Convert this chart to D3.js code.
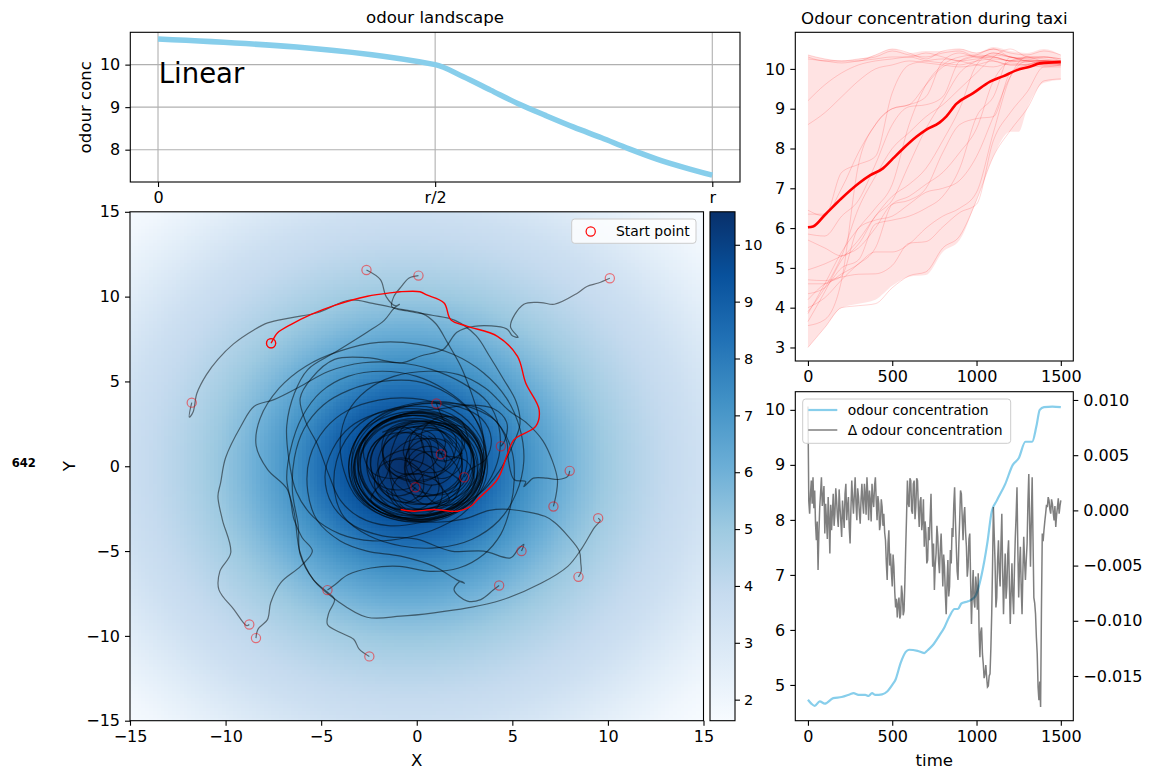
<!DOCTYPE html>
<html>
<head>
<meta charset="utf-8">
<script src="https://cdn.jsdelivr.net/npm/d3@7"></script>
<style>
  body { margin: 0; background: #fff; }
  text { font-family: "DejaVu Sans", sans-serif; }
</style>
</head>
<body>
<svg id="fig" width="1165" height="771"></svg>
<script>
// ---------- data ----------

// odour landscape profile (x as fraction of r)
var landscapePos = [0, 0.5, 0.55, 0.6, 0.65, 0.7, 0.75, 0.8, 0.85, 0.9, 0.95, 1.0];
var landscapeConc = [10.6, 10.0, 9.72, 9.4, 9.08, 8.8, 8.53, 8.28, 8.02, 7.78, 7.58, 7.4];
var landscapeTicks = [0, 0.5, 1];
var landscapeTickLabels = ["0", "r/2", "r"];

// concentration of the arena as a function of distance from the source
var fieldCentre = [-0.4, 0];
var fieldRadius = [0, 1, 2, 3, 4, 5, 6, 7, 8, 9, 10, 11, 12, 13, 14, 15, 16, 17, 18, 19, 20, 21.5];
var fieldConc = [10.58, 10.4, 10.0, 9.5, 8.85, 8.1, 7.35, 6.7, 6.1, 5.55, 5.1, 4.7, 4.35, 4.05, 3.8, 3.55, 3.2, 2.85, 2.5, 2.2, 1.9, 1.63];
var colorRange = [1.63, 10.58];
var colorbarTicks = [2, 3, 4, 5, 6, 7, 8, 9, 10];
var bluesColors = ["#f7fbff", "#deebf7", "#c6dbef", "#9ecae1", "#6baed6", "#4292c6", "#2171b5", "#08519c", "#08306b"];

// start points of the 20 walks
var startX = [-7.62, -11.77, -2.63, 0.09, 10.1, 1.03, 4.4, 1.26, 2.48, -0.07, 8.0, 7.15, 9.49, 5.48, 8.46, 4.31, -2.48, -4.67, -8.76, -8.41];
var startY = [7.25, 3.75, 11.57, 11.24, 11.08, 3.7, 1.18, 0.71, -0.65, -1.24, -0.27, -2.37, -3.06, -5.0, -6.52, -7.03, -11.21, -7.3, -9.33, -10.13];

// highlighted walk
var redTrack = [[-7.62,7.25],[-7.45,7.6],[-7.29,7.86],[-6.59,8.35],[-5.55,8.94],[-4.33,9.47],[-2.58,10.02],[-1.19,10.25],[-0.88,10.29],[0.17,10.29],[0.52,10.1],[1.43,9.63],[1.78,8.64],[2.65,8.25],[4.22,7.66],[5.27,6.48],[5.7,4.91],[6.4,3.34],[6.23,2.36],[5.09,1.57],[4.74,0.7],[4.22,-0.78],[3.18,-1.96],[2.83,-2.36],[2.13,-2.65],[0.91,-2.55],[-0.14,-2.65],[-0.84,-2.55]];

// the other walks (grey)
var walks = [
  [[-11.77,3.75],[-11.9,2.9],[-11.7,3.2],[-11.5,4.3],[-11,5.4],[-10.4,6.3],[-9.6,7.2],[-8.5,8.05],[-7.8,8.45],[-6.6,8.75],[-5.2,9.05],[-3.5,9.8],[-2.3,9.6],[-0.8,9.25],[0.3,9.0],[1.0,8.4],[1.6,7.3],[2.3,5.9],[2.8,4.5],[3.2,3.1],[3.5,1.5],[3.3,-0.4],[2.4,-1.9],[0.8,-2.8],[-1.0,-2.7],[-2.5,-1.6],[-3.1,0.2],[-2.6,1.9],[-1.0,2.9],[0.9,2.8],[2.3,1.8],[2.2,0.3],[1.6,-0.8],[0.6,-1.1],[-0.4,-0.5],[-0.5,0.8],[0.4,1.6],[1.6,1.4],[2.0,0.4]],
  [[-2.63,11.57],[-1.9,11.0],[-1.6,10.0],[-1.1,9.45],[-0.9,9.55],[-1.2,9.3],[-1.7,8.6],[-2.6,7.9],[-4.3,6.7],[-5.7,5.7],[-6.4,4.3],[-6.8,2.4],[-6.7,0.5],[-6.3,-1.5],[-5.4,-3.0],[-4.0,-4.0],[-2.3,-4.4],[-0.5,-4.2],[1.2,-3.6],[2.6,-2.6],[3.4,-1.0],[3.5,0.8],[2.7,2.3],[1.2,3.1],[-0.6,3.1],[-2.1,2.2],[-2.9,0.7],[-2.7,-1.0],[-1.6,-2.3],[0.1,-2.6],[1.7,-2.0],[1.0,-0.8],[0.7,0.6],[-0.5,1.0],[-1.8,0.3],[-2.0,-1.0],[-1.2,-2.0],[0.1,-2.0],[0.8,-1.1]],
  [[0.09,11.24],[-0.4,11.1],[-0.8,10.6],[-1.2,10.0],[-1.3,9.4],[-0.5,9.15],[0.8,8.9],[2.0,8.6],[3.1,7.7],[3.8,6.5],[4.5,5.2],[5.2,3.8],[5.4,2.5],[5.0,1.2],[4.3,-0.3],[3.3,-1.6],[2.0,-2.4],[0.4,-2.9],[-1.3,-2.7],[-2.7,-1.7],[-3.3,-0.1],[-2.8,1.6],[-1.4,2.7],[0.4,3.0],[2.0,2.4],[2.9,1.0],[2.8,-0.6],[1.8,-1.8],[0.3,-2.2],[-0.5,-1.0],[-0.6,0.4],[0.0,1.8],[1.2,2.1],[2.2,1.3],[2.3,0.0],[1.5,-0.7],[0.4,-0.5]],
  [[10.1,11.08],[9.5,10.8],[8.9,10.6],[8.4,10.2],[7.2,9.55],[6.5,9.65],[5.6,9.55],[4.9,8.25],[5.3,7.6],[5.0,7.7],[4.7,8.1],[3.0,8.25],[2.1,7.9],[1.4,6.9],[0.2,6.5],[-0.8,6.1],[-2.6,6.4],[-4.3,6.3],[-5.5,5.2],[-6.1,4.0],[-5.8,2.6],[-5.2,1.3],[-4.6,-0.5],[-4.0,-2.0],[-3.0,-3.0],[-1.5,-3.5],[0.3,-3.3],[2.0,-2.7],[3.1,-1.5],[3.4,0.2],[2.8,1.8],[1.3,2.9],[-0.5,3.1],[-2.1,2.4],[-3.0,0.9],[-2.9,-0.8],[-1.9,-2.1],[-0.3,-2.6],[1.3,-2.2],[2.3,-1.0],[1.0,0.2],[0.5,1.5],[-0.8,2.0],[-2.2,1.4],[-2.6,0.0],[-1.8,-1.2],[-0.4,-1.3],[0.4,-0.4]],
  [[1.03,3.7],[1.2,3.2],[1.5,2.6],[2.6,2.2],[3.3,1.0],[3.2,-0.5],[2.4,-1.6],[1.0,-2.2],[-0.6,-2.0],[-1.8,-1.0],[-2.0,0.5],[-1.2,1.8],[0.3,2.4],[1.8,2.0],[2.6,0.8],[2.4,-0.7],[1.3,-1.6],[-0.1,-1.7],[-1.2,-0.9],[-1.4,0.4],[-0.6,1.4],[0.7,1.6],[1.6,0.8]],
  [[4.4,1.18],[4.6,1.5],[4.7,2.6],[4.0,3.4],[2.8,3.6],[1.3,3.4],[-0.3,3.2],[-1.8,2.6],[-2.9,1.3],[-3.2,-0.4],[-2.6,-1.9],[-1.2,-2.8],[0.6,-2.9],[2.2,-2.2],[3.2,-0.9],[3.3,0.7],[2.5,2.0],[1.0,2.6],[-0.6,2.4],[-1.3,1.0],[-1.4,-0.6],[-0.8,-2.1],[0.6,-2.6],[1.9,-2.0],[2.3,-0.6],[1.6,0.6],[0.3,0.8],[-0.5,0.0]],
  [[1.26,0.71],[1.5,1.4],[0.9,2.4],[-0.5,2.7],[-2.0,2.1],[-2.9,0.7],[-2.8,-0.9],[-1.8,-2.2],[-0.2,-2.7],[1.5,-2.4],[2.7,-1.3],[3.0,0.3],[2.4,1.8],[1.0,2.6],[-0.7,2.5],[-2.0,1.5],[-2.4,0],[-1.8,-1.5],[-0.4,-2.2],[1.2,-2.0],[2.2,-0.9],[2.3,0.6],[1.4,1.7]],
  [[2.48,-0.65],[2.8,-0.2],[3.6,0.4],[3.9,1.6],[3.4,2.8],[2.2,3.5],[0.7,3.7],[-0.9,3.4],[-2.3,2.5],[-3.2,1.1],[-3.4,-0.6],[-2.8,-2.0],[-1.4,-2.9],[0.4,-3.0],[2.0,-2.4],[3.0,-1.2],[3.1,0.4],[2.4,1.7],[1.0,2.5],[-0.6,2.6],[-1.6,2.0],[-1.8,0.8],[-1.1,-0.3],[0.2,-0.4],[1.1,0.5],[0.9,1.8],[-0.2,2.3]],
  [[-0.07,-1.24],[-0.4,-1.6],[-1.3,-1.7],[-2.2,-0.8],[-2.4,0.6],[-1.6,1.9],[0,2.5],[1.7,2.2],[2.8,1.0],[2.9,-0.6],[2.0,-1.9],[0.5,-2.5],[-1.1,-2.3],[-2.3,-1.2],[-2.6,0.4],[-1.9,1.7],[-0.4,2.3],[1.2,2.1],[2.2,1.0],[2.3,-0.5],[1.4,-1.5],[0,-1.8]],
  [[8.0,-0.27],[7.9,-0.6],[7.4,-0.78],[6.8,-0.7],[6.1,-0.7],[5.8,-1.0],[5.6,-1.2],[5.7,-0.9],[5.1,-0.8],[4.8,0.3],[4.7,1.5],[4.1,2.7],[3.0,3.4],[1.5,3.8],[-0.2,3.7],[-1.8,3.1],[-3.0,1.9],[-3.4,0.3],[-3.1,-1.3],[-2.2,-2.5],[-0.8,-3.1],[0.9,-3.0],[2.3,-2.2],[3.1,-0.8],[3.1,0.8],[2.3,2.0],[0.9,2.6],[-0.2,2.0],[-0.4,0.6],[0.0,-0.9],[1.0,-2.2],[2.3,-2.1],[3.0,-0.9],[2.6,0.3],[1.4,0.6]],
  [[7.15,-2.37],[7.3,-1.6],[7.36,-0.8],[7.1,0.3],[6.6,1.5],[5.8,2.5],[4.8,3.3],[3.6,4.6],[2.2,5.4],[0.6,5.6],[-1.2,5.3],[-2.6,4.5],[-3.6,3.2],[-4.0,1.5],[-3.8,-0.3],[-3.1,-1.9],[-1.8,-2.9],[-0.1,-3.3],[1.6,-3.0],[2.9,-2.0],[3.5,-0.5],[3.3,1.1],[2.4,2.4],[0.9,3.1],[-0.8,3.0],[-2.3,2.2],[-2.8,0.9],[-2.3,-0.4],[-1.0,-0.7],[0.2,0.0],[0.3,1.4],[-0.6,2.3],[-1.8,2.0]],
  [[9.49,-3.06],[9.6,-3.2],[9.3,-3.6],[8.6,-4.9],[7.9,-5.9],[6.5,-6.9],[4.4,-7.9],[2.65,-8.35],[0.9,-8.64],[-0.84,-8.84],[-2.6,-8.9],[-4.2,-7.9],[-5.4,-6.7],[-6.1,-5.1],[-6.4,-2.8],[-6.8,-0.8],[-6.6,1.0],[-6.0,2.9],[-5.0,4.4],[-3.6,5.3],[-1.8,5.6],[0,5.3],[1.5,4.5],[2.7,3.4],[3.4,1.9],[3.6,0.2],[3.1,-1.4],[2.0,-2.6],[0.5,-3.1],[-1.1,-2.9],[-2.4,-2.0],[-1.6,-0.6],[-1.2,0.4],[0.0,0.3],[1.0,-0.4],[1.1,-1.6],[0.2,-2.5],[-1.0,-2.4],[-1.6,-1.4]],
  [[5.48,-5.0],[5.6,-4.6],[5.3,-4.9],[4.9,-5.4],[3.5,-5.0],[1.8,-5.0],[0.0,-4.3],[-1.8,-4.1],[-3.3,-3.5],[-4.4,-2.3],[-4.8,-0.6],[-4.4,1.0],[-3.5,2.3],[-2.1,3.1],[-0.4,3.4],[1.3,3.1],[2.7,2.2],[3.4,0.8],[3.3,-0.8],[2.5,-2.0],[1.1,-2.7],[-0.5,-2.7],[-1.3,-1.6],[-0.9,-0.6],[0.3,-0.5],[1.3,-1.2],[1.1,-2.4],[0.0,-2.9],[-0.9,-2.2]],
  [[8.46,-6.52],[8.6,-6.2],[8.58,-5.7],[8.5,-5.0],[7.9,-4.1],[7.2,-3.3],[6.7,-2.95],[4.9,-2.55],[3.8,-2.6],[2.5,-3.1],[1.0,-3.3],[-0.7,-3.1],[-2.2,-2.3],[-3.1,-1.0],[-3.2,0.6],[-2.5,2.0],[-1.2,2.9],[0.4,3.1],[1.9,2.4],[2.8,1.2],[2.7,1.6],[2.3,2.7],[1.2,2.9],[0.3,2.1],[0.4,0.9],[1.4,0.3],[2.4,0.8]],
  [[4.31,-7.03],[4.0,-7.3],[3.35,-7.86],[2.65,-7.95],[1.95,-7.27],[2.3,-6.78],[2.5,-6.9],[2.1,-6.7],[0.9,-5.9],[-0.84,-5.3],[-2.6,-5.0],[-4.0,-4.4],[-5.2,-3.2],[-5.7,-1.5],[-5.6,0.5],[-4.8,2.2],[-3.6,3.3],[-2.0,3.9],[-0.2,4.0],[1.6,3.5],[2.9,2.4],[3.6,0.9],[3.6,-0.8],[2.8,-2.2],[1.3,-3.0],[-0.4,-3.1],[-1.9,-2.5],[-2.9,-1.2],[-3.0,0.5],[-2.3,1.9],[-0.9,2.7],[0.7,2.7],[2.0,1.8],[1.9,0.5],[1.2,-0.3],[0.0,-0.2],[-0.7,0.8],[-0.2,2.0],[1.1,2.2],[1.9,1.3]],
  [[-2.48,-11.21],[-3.0,-10.8],[-3.3,-10.2],[-4.0,-9.8],[-4.67,-9.33],[-4.6,-8.64],[-4.3,-7.86],[-4.7,-7.4],[-5.4,-6.7],[-6.1,-5.2],[-6.2,-3.5],[-6.5,-1.5],[-6.4,0.5],[-5.9,2.2],[-4.9,3.6],[-3.5,4.5],[-1.8,5.0],[0,5.0],[1.6,4.3],[2.8,3.2],[3.5,1.7],[3.6,0],[3.0,-1.6],[1.8,-2.7],[0.2,-3.2],[-1.5,-2.9],[-2.8,-1.9],[-3.3,-0.3],[-2.9,1.3],[-1.8,2.5],[-0.2,3.0],[1.4,2.6],[2.5,1.4],[2.0,0.3],[1.0,-0.6],[-0.4,-0.8],[-1.6,-0.1],[-1.7,1.2],[-0.6,2.0],[0.6,1.6],[0.8,0.5]],
  [[-4.67,-7.3],[-4.3,-7.0],[-3.6,-6.4],[-2.4,-6.0],[-0.9,-5.9],[0.7,-6.2],[2.2,-6.0],[3.5,-5.2],[4.4,-4.0],[4.9,-2.4],[5.1,-0.8],[5.0,0.8],[4.4,2.3],[3.3,3.4],[1.9,3.7],[0.3,3.7],[-1.3,3.3],[-2.6,2.4],[-3.4,1.0],[-3.5,-0.6],[-2.8,-2.0],[-1.4,-2.9],[0.3,-3.0],[1.8,-2.4],[2.8,-1.2],[3.0,0.4],[2.3,1.8],[1.0,2.5],[-0.5,2.5],[-1.6,1.6],[-1.7,0.3],[-0.9,-0.7],[0.4,-0.9],[1.4,-0.2],[1.5,1.0],[0.6,1.8]],
  [[-8.76,-9.33],[-8.9,-9.4],[-9.56,-8.45],[-10.35,-7.27],[-10.3,-6.2],[-9.73,-5.1],[-10.17,-3.14],[-10.4,-1.77],[-10.26,-0.98],[-10.0,0.5],[-9.2,2.36],[-8.5,3.54],[-7.47,3.93],[-6.1,4.7],[-4.6,5.6],[-2.8,6.1],[-1.0,6.1],[0.8,5.7],[2.4,4.9],[3.7,3.8],[4.3,2.3],[4.3,0.6],[3.7,-1.0],[2.6,-2.3],[1.0,-3.1],[-0.8,-3.2],[-2.4,-2.5],[-3.4,-1.1],[-3.5,0.6],[-2.8,2.1],[-1.4,3.0],[0.3,3.2],[1.8,2.6],[2.7,1.4],[2.8,-0.1],[2.2,-1.3],[1.0,-1.7],[-0.2,-1.2],[-0.6,0.0],[0.0,1.0],[1.0,1.1],[1.5,0.2]],
  [[-8.41,-10.13],[-8.3,-9.6],[-7.81,-9.04],[-7.64,-8.05],[-7.12,-6.87],[-6.07,-5.89],[-5.46,-5.0],[-6.0,-4.2],[-6.42,-3.14],[-6.77,-1.37],[-7.8,-0.2],[-8.4,1.2],[-8.2,2.8],[-7.2,4.6],[-5.8,5.9],[-4.0,6.8],[-2.0,7.3],[0,7.2],[1.9,6.6],[3.5,5.5],[4.7,4.0],[5.4,2.2],[5.6,0.3],[5.2,-1.6],[4.3,-3.2],[2.9,-4.3],[1.1,-4.8],[-0.8,-4.7],[-2.5,-4.1],[-3.8,-3.0],[-4.3,-1.5],[-4.2,0.3],[-3.5,1.9],[-2.3,3.0],[-0.7,3.5],[1.0,3.4],[2.4,2.6],[3.3,1.2],[3.4,-0.4],[2.8,-1.8],[1.5,-2.7],[-0.1,-2.9],[-1.5,-2.3],[-2.2,-1.2],[-1.9,0.0],[-0.8,0.4],[0.2,-0.3],[0.3,-1.5],[-0.6,-2.2]]
];

// odour concentration during taxi (one trace per walk, every 100 steps)
var taxiTime = [0, 100, 200, 300, 400, 500, 600, 700, 800, 900, 1000, 1100, 1200, 1300, 1400, 1500];
var taxiTraces = [
  [10.35,10.25,10.2,10.25,10.3,10.45,10.35,10.3,10.4,10.45,10.3,10.35,10.3,10.25,10.3,10.25],
  [10.3,10.2,10.2,10.2,10.35,10.5,10.4,10.25,10.45,10.5,10.4,10.5,10.4,10.35,10.45,10.35],
  [10.25,10.2,10.15,10.2,10.25,10.3,10.3,10.4,10.3,10.2,10.25,10.3,10.2,10.3,10.2,10.2],
  [9.2,9.6,9.9,10.1,10.2,10.25,10.3,10.2,10.15,10.1,10.2,10.25,10.2,10.15,10.1,10.1],
  [8.6,8.9,9.3,9.7,10.0,10.1,10.2,10.15,10.1,10.05,10.1,10.2,10.1,10.1,10.2,10.15],
  [6.45,6.3,7.4,7.6,7.8,9.4,10.1,10.2,10.25,10.2,10.1,10.05,10.15,10.1,10.05,10.1],
  [6.35,6.35,7.0,7.9,8.6,9.0,9.1,9.6,10.05,10.2,10.3,10.2,10.1,10.1,10.1,10.1],
  [5.85,5.8,6.3,6.7,7.6,8.6,9.05,9.1,9.3,10.2,10.35,10.5,10.3,10.25,10.2,10.2],
  [5.7,5.5,5.3,5.6,6.3,6.7,7.6,8.5,9.2,9.9,10.2,10.4,10.3,10.2,10.15,10.15],
  [4.95,5.1,5.3,5.5,6.0,6.6,6.7,7.0,7.9,8.6,8.75,8.8,9.9,10.1,10.2,10.15],
  [4.7,4.68,4.77,4.84,4.85,5.06,5.62,5.66,6.03,6.39,6.6,8.2,8.9,9.42,10.05,10.05],
  [4.6,4.6,4.85,5.1,5.5,6.6,6.8,7.1,7.4,7.9,8.5,9.7,10.2,10.3,10.3,10.25],
  [4.35,4.5,5.0,5.2,6.1,6.2,6.3,6.5,6.8,7.5,8.8,9.3,10.3,10.2,10.2,10.1],
  [4.2,4.6,4.8,6.0,6.2,6.3,6.6,6.9,7.0,7.2,7.8,8.8,9.8,10.2,10.2,10.15],
  [4.0,4.25,4.7,5.1,5.4,5.4,5.6,6.0,6.3,6.5,6.9,8.4,9.8,10.3,10.3,10.2],
  [3.85,4.6,5.4,6.0,6.5,7.1,8.6,9.6,10.1,10.3,10.35,10.3,10.2,10.2,10.1,10.1],
  [3.65,4.4,5.2,5.7,6.3,6.8,7.1,7.5,8.2,9.0,10.1,10.4,10.3,10.2,10.2,10.2],
  [3.55,3.7,4.7,7.6,8.6,9.0,9.1,9.3,10.2,10.4,10.3,10.3,10.2,10.2,10.2,10.2],
  [3.0,3.5,4.0,4.05,4.1,4.5,4.8,4.9,5.5,5.8,6.7,7.8,8.45,9.0,9.7,9.75],
  [3.9,4.5,5.3,6.5,7.3,8.0,8.4,8.8,9.1,9.5,9.9,10.3,10.5,10.3,10.25,10.2]
];
var bandTime = [0, 100, 200, 300, 400, 500, 600, 700, 800, 900, 1000, 1100, 1200, 1250, 1300, 1400, 1500];
var bandLow = [3.0, 3.5, 4.0, 4.1, 4.2, 4.55, 4.78, 4.82, 5.4, 5.7, 6.7, 7.8, 8.42, 8.42, 9.0, 9.65, 9.72];
var bandHigh = [10.35, 10.25, 10.2, 10.25, 10.35, 10.5, 10.4, 10.45, 10.45, 10.5, 10.4, 10.55, 10.45, 10.42, 10.4, 10.5, 10.35];
var meanTime = [0, 30, 100, 200, 300, 370, 445, 505, 565, 645, 700, 780, 820, 880, 980, 1080, 1160, 1240, 1320, 1375, 1500];
var meanConc = [6.02, 6.04, 6.33, 6.75, 7.12, 7.33, 7.5, 7.75, 8.0, 8.3, 8.47, 8.65, 8.8, 9.12, 9.39, 9.68, 9.82, 9.97, 10.06, 10.14, 10.17];

// single walk: odour concentration and its change
var concTime = [0, 20, 40, 70, 100, 150, 200, 250, 270, 300, 340, 360, 380, 400, 440, 470, 500, 520, 550, 580, 600, 650, 690, 710, 740, 780, 810, 840, 870, 890, 910, 950, 990, 1030, 1065, 1090, 1120, 1170, 1215, 1250, 1290, 1330, 1355, 1375, 1400, 1450, 1500];
var concValue = [4.73, 4.66, 4.62, 4.7, 4.66, 4.76, 4.78, 4.83, 4.85, 4.82, 4.82, 4.8, 4.85, 4.82, 4.83, 4.88, 5.0, 5.1, 5.4, 5.6, 5.64, 5.62, 5.58, 5.63, 5.72, 5.9, 6.05, 6.25, 6.38, 6.38, 6.48, 6.52, 6.6, 7.0, 7.6, 8.15, 8.35, 8.65, 9.0, 9.12, 9.42, 9.42, 9.7, 10.0, 10.05, 10.06, 10.05];
var deltaStep = 5;
// change of odour concentration in units of 1e-3, one value every 5 steps
var deltaMilli = [
  9.4,0.8,-0.3,1.5,2.7,0.6,3.0,0.2,1.8,-1.2,-2.7,-1.0,-5.4,-2.0,0.3,1.6,3.0,0.4,1.2,2.2,
  -2.1,0.6,-0.9,-2.6,1.2,-0.8,-3.9,0.5,-1.8,-0.2,1.5,-1.4,-0.3,2.0,0.9,-0.6,-1.5,1.9,0.3,-1.0,
  -2.4,0.9,-0.3,-1.6,1.5,2.4,-0.9,0.4,1.2,-1.6,-3.0,0.2,2.7,1.0,-0.3,1.4,3.0,0.6,-0.9,2.0,
  1.2,-0.2,-1.2,1.0,2.4,0.7,-0.3,2.4,1.5,-0.4,3.0,1.4,-0.9,1.8,0.9,-1.0,2.4,1.0,0.3,2.2,
  3.0,0.9,-0.9,1.3,0.6,-1.8,-1.2,1.0,0.3,-1.4,-0.3,-2.0,-2.7,-4.8,-6.3,-3.0,-1.8,-5.0,-3.9,-5.6,
  -6.9,-4.0,-5.1,-7.4,-8.8,-8.0,-9.7,-8.5,-7.9,-9.8,-9.4,-6.8,-7.6,-9.5,-9.1,-6.5,-3.3,-0.5,2.7,0.6,
  0.3,2.9,2.7,0.0,-0.3,2.4,2.7,-0.8,0.3,2.9,2.7,0.2,-1.5,0.8,1.2,-1.8,-0.9,1.0,-3.3,-1.0,
  -2.1,-4.8,-4.5,-1.5,-2.7,-0.6,1.5,-2.4,-5.1,-3.0,-7.2,-5.0,-3.9,-1.4,-2.4,-4.6,-5.7,-3.5,-2.1,-4.3,
  -6.9,-4.0,-5.1,-7.6,-9.4,-6.5,-4.5,-7.8,-6.9,-3.6,-4.8,-1.6,-2.4,0.5,2.1,-1.0,-3.3,-5.5,-6.3,-3.1,
  -0.9,1.8,1.5,-0.6,-2.7,-0.5,0.3,-2.0,-3.3,-6.0,-5.1,-2.6,-2.1,-6.5,-10.3,-7.4,-5.4,-8.2,-8.8,-6.0,
  -6.9,-9.0,-5.7,-10.9,-13.3,-11.0,-10.6,-13.0,-13.9,-15.2,-14.8,-14.0,-15.1,-16.0,-15.9,-15.0,-14.8,-12.5,-9.4,-5.0,
  0.3,-2.2,-4.8,-8.8,-7.9,-4.5,-2.7,-5.6,-6.9,-3.0,-0.3,-5.5,-9.4,-6.3,-3.9,-8.0,-6.9,-4.0,-2.7,-6.8,
  -10.3,-7.5,-4.8,-7.7,-9.4,-5.2,-2.4,-0.4,2.1,-3.5,-7.9,-5.0,-3.3,-7.0,-9.4,-5.6,-2.4,-4.6,-6.3,-4.5,
  -3.0,0.8,3.3,-1.0,-5.1,-0.8,3.0,-2.6,-7.9,-8.4,-9.4,-11.5,-13.0,-16.0,-17.2,-15.5,-17.8,-9.0,-2.1,-2.8,
  -1.8,-1.0,-0.3,0.5,0.3,1.2,0.9,0.1,-0.3,1.0,0.6,-0.2,-0.9,0.4,-1.5,-0.4,0.3,1.1,-0.3,0.4,
  0.9
];
var timeTicks = [0, 500, 1000, 1500];
var deltaTicks = [-15, -10, -5, 0, 5, 10];

// ---------- drawing ----------
var svg = d3.select("#fig");
svg.append("rect").attr("width", 1165).attr("height", 771).attr("fill", "#fff");
var intFmt = d3.format("d");

function styleAxis(g, size) {
  g.select(".domain").remove();
  g.selectAll(".tick line").attr("stroke", "#000").attr("stroke-width", 1.1);
  g.selectAll(".tick text").attr("font-family", "DejaVu Sans").attr("font-size", size).attr("fill", "#000");
  return g;
}
function frame(g, w, h) {
  g.append("rect").attr("width", w).attr("height", h)
    .attr("fill", "none").attr("stroke", "#000").attr("stroke-width", 1.1);
}
function addText(x, y, str, size, anchor, rotate, weight) {
  var t = svg.append("text")
    .attr("transform", "translate(" + x + "," + y + ")" + (rotate ? " rotate(" + rotate + ")" : ""))
    .attr("font-size", size).attr("text-anchor", anchor || "middle")
    .attr("fill", "#000").text(str);
  if (weight) t.attr("font-weight", weight);
  return t;
}

// ===== odour landscape (top left) =====
var tlW = 609.7, tlH = 149.7;
var gTL = svg.append("g").attr("transform", "translate(130.3,32.3)");
var lx = d3.scaleLinear().domain([-0.05, 1.05]).range([0, tlW]);
var ly = d3.scaleLinear().domain([7.24, 10.76]).range([tlH, 0]);

gTL.append("g").selectAll("line").data(landscapeTicks).enter().append("line")
  .attr("x1", d => lx(d)).attr("x2", d => lx(d)).attr("y1", 0).attr("y2", tlH)
  .attr("stroke", "#b0b0b0").attr("stroke-width", 1.1);
gTL.append("g").selectAll("line").data([8, 9, 10]).enter().append("line")
  .attr("x1", 0).attr("x2", tlW).attr("y1", d => ly(d)).attr("y2", d => ly(d))
  .attr("stroke", "#b0b0b0").attr("stroke-width", 1.1);

gTL.append("path")
  .datum(d3.zip(landscapePos, landscapeConc))
  .attr("fill", "none").attr("stroke", "#87ceeb").attr("stroke-width", 5.5)
  .attr("d", d3.line().x(d => lx(d[0])).y(d => ly(d[1])).curve(d3.curveMonotoneX));

gTL.append("text").attr("x", 28.5).attr("y", 51).attr("font-size", 27.5).text("Linear");

styleAxis(gTL.append("g").attr("transform", "translate(0," + tlH + ")")
  .call(d3.axisBottom(lx).tickValues(landscapeTicks)
    .tickFormat((d, i) => landscapeTickLabels[i]).tickSize(5).tickPadding(5)), 16);
styleAxis(gTL.append("g")
  .call(d3.axisLeft(ly).tickValues([8, 9, 10]).tickFormat(intFmt).tickSize(5).tickPadding(5)), 16);
frame(gTL, tlW, tlH);
addText(435, 23.3, "odour landscape", 16.6);
addText(91, 107.2, "odour conc", 16.6, "middle", -90);

// ===== arena (main) =====
var mW = 573.5, mH = 508.9;
var gM = svg.append("g").attr("transform", "translate(130,211.8)");
var mx = d3.scaleLinear().domain([-15, 15]).range([0, mW]);
var my = d3.scaleLinear().domain([-15, 15]).range([mH, 0]);
var radial = d3.scaleLinear().domain(fieldRadius).range(fieldConc).clamp(true);
var blueStops = bluesColors.map((c, i) => colorRange[0] + i * (colorRange[1] - colorRange[0]) / 8);
var blues = d3.scaleLinear().domain(blueStops).range(bluesColors).clamp(true);

var cellSize = 0.2;
var centres = d3.range(150).map(i => -15 + cellSize * (i + 0.5));
var cells = [];
centres.forEach(function (cx) {
  centres.forEach(function (cy) {
    cells.push({ x: cx, y: cy, v: radial(Math.hypot(cx - fieldCentre[0], cy - fieldCentre[1])) });
  });
});
var cw = mx(cellSize) - mx(0), ch = my(0) - my(cellSize);
gM.append("g").attr("shape-rendering", "crispEdges").selectAll("rect").data(cells).enter().append("rect")
  .attr("x", d => mx(d.x - cellSize / 2)).attr("y", d => my(d.y + cellSize / 2))
  .attr("width", cw + 0.6).attr("height", ch + 0.6)
  .attr("fill", d => blues(d.v));

var clip = svg.append("clipPath").attr("id", "mainClip");
clip.append("rect").attr("width", mW).attr("height", mH);
var walkLine = d3.line().x(d => mx(d[0])).y(d => my(d[1])).curve(d3.curveCatmullRom.alpha(0.5));
var gWalks = gM.append("g").attr("clip-path", "url(#mainClip)");
gWalks.selectAll("path.walk").data(walks).enter().append("path")
  .attr("class", "walk").attr("d", walkLine)
  .attr("fill", "none").attr("stroke", "#000").attr("stroke-opacity", 0.5).attr("stroke-width", 1.2);
gWalks.append("path").datum(redTrack).attr("d", walkLine)
  .attr("fill", "none").attr("stroke", "#ff0000").attr("stroke-width", 1.4);

gM.append("g").selectAll("circle").data(d3.zip(startX, startY)).enter().append("circle")
  .attr("cx", d => mx(d[0])).attr("cy", d => my(d[1])).attr("r", 4.6)
  .attr("fill", "none").attr("stroke", "#ff0000").attr("stroke-opacity", 0.5).attr("stroke-width", 1.2);
gM.append("circle").attr("cx", mx(startX[0])).attr("cy", my(startY[0])).attr("r", 4.6)
  .attr("fill", "none").attr("stroke", "#ff0000").attr("stroke-width", 1.3);

// legend
var lgM = gM.append("g").attr("transform", "translate(441.7,7.2)");
lgM.append("rect").attr("width", 124.3).attr("height", 24.3).attr("rx", 3)
  .attr("fill", "#fff").attr("fill-opacity", 0.8).attr("stroke", "#cccccc");
lgM.append("circle").attr("cx", 19).attr("cy", 12.5).attr("r", 4.6)
  .attr("fill", "none").attr("stroke", "#ff0000").attr("stroke-width", 1.2);
lgM.append("text").attr("x", 44.3).attr("y", 12.5).attr("dy", "0.35em")
  .attr("font-size", 13.9).text("Start point");

styleAxis(gM.append("g").attr("transform", "translate(0," + mH + ")")
  .call(d3.axisBottom(mx).tickValues([-15, -10, -5, 0, 5, 10, 15]).tickFormat(intFmt).tickSize(5).tickPadding(5)), 16);
styleAxis(gM.append("g")
  .call(d3.axisLeft(my).tickValues([-15, -10, -5, 0, 5, 10, 15]).tickFormat(intFmt).tickSize(5).tickPadding(5)), 16);
frame(gM, mW, mH);
addText(416.75, 766, "X", 16.6);
addText(75, 466.25, "Y", 16.6, "middle", -90);
addText(11.7, 467, "642", 11.6, "start", 0, "bold");

// colorbar
var cbH = 508.9, cbW = 25;
var gCB = svg.append("g").attr("transform", "translate(710,211.8)");
var cScale = d3.scaleLinear().domain(colorRange).range([cbH, 0]);
var grad = svg.append("defs").append("linearGradient").attr("id", "bluesGrad")
  .attr("x1", 0).attr("x2", 0).attr("y1", 1).attr("y2", 0);
grad.selectAll("stop").data(bluesColors).enter().append("stop")
  .attr("offset", (d, i) => i / 8).attr("stop-color", d => d);
gCB.append("rect").attr("width", cbW).attr("height", cbH).attr("fill", "url(#bluesGrad)");
styleAxis(gCB.append("g").attr("transform", "translate(" + cbW + ",0)")
  .call(d3.axisRight(cScale).tickValues(colorbarTicks).tickFormat(intFmt).tickSize(5).tickPadding(4)), 14.5);
frame(gCB, cbW, cbH);

// ===== odour concentration during taxi (top right) =====
var rW = 278, trH = 328.7;
var gTR = svg.append("g").attr("transform", "translate(795.3,32.3)");
var tx = d3.scaleLinear().domain([-75, 1574]).range([0, rW]);
var ty = d3.scaleLinear().domain([2.66, 10.92]).range([trH, 0]);

gTR.append("path").datum(d3.range(bandTime.length))
  .attr("fill", "#ff0000").attr("fill-opacity", 0.11)
  .attr("d", d3.area().x(i => tx(bandTime[i])).y0(i => ty(bandLow[i])).y1(i => ty(bandHigh[i])).curve(d3.curveMonotoneX));
var traceLine = d3.line().x((d, i) => tx(taxiTime[i])).y(d => ty(d)).curve(d3.curveMonotoneX);
gTR.selectAll("path.trace").data(taxiTraces).enter().append("path").attr("class", "trace")
  .attr("d", traceLine).attr("fill", "none").attr("stroke", "#ff0000")
  .attr("stroke-opacity", 0.16).attr("stroke-width", 1);
gTR.append("path").datum(d3.zip(meanTime, meanConc))
  .attr("fill", "none").attr("stroke", "#ff0000").attr("stroke-width", 2.6)
  .attr("d", d3.line().x(d => tx(d[0])).y(d => ty(d[1])).curve(d3.curveMonotoneX));

styleAxis(gTR.append("g").attr("transform", "translate(0," + trH + ")")
  .call(d3.axisBottom(tx).tickValues(timeTicks).tickFormat(intFmt).tickSize(5).tickPadding(5)), 16);
styleAxis(gTR.append("g")
  .call(d3.axisLeft(ty).tickValues([3, 4, 5, 6, 7, 8, 9, 10]).tickFormat(intFmt).tickSize(5).tickPadding(5)), 16);
frame(gTR, rW, trH);
addText(934.3, 24, "Odour concentration during taxi", 16.6);

// ===== single walk (bottom right) =====
var brH = 329;
var gBR = svg.append("g").attr("transform", "translate(795.3,391.7)");
var by = d3.scaleLinear().domain([4.35, 10.33]).range([brH, 0]);
var byR = d3.scaleLinear().domain([-19.05, 10.75]).range([brH, 0]);

gBR.append("path").datum(d3.zip(concTime, concValue))
  .attr("fill", "none").attr("stroke", "#87ceeb").attr("stroke-width", 2.2)
  .attr("d", d3.line().x(d => tx(d[0])).y(d => by(d[1])).curve(d3.curveMonotoneX));
gBR.append("path").datum(deltaMilli)
  .attr("fill", "none").attr("stroke", "#000").attr("stroke-opacity", 0.5).attr("stroke-width", 1.5)
  .attr("d", d3.line().x((d, i) => tx(i * deltaStep)).y(d => byR(d)));

var lgB = gBR.append("g").attr("transform", "translate(7.4,7.3)");
lgB.append("rect").attr("width", 208).attr("height", 44.3).attr("rx", 3)
  .attr("fill", "#fff").attr("fill-opacity", 0.8).attr("stroke", "#cccccc");
lgB.append("line").attr("x1", 5.6).attr("x2", 34.6).attr("y1", 11).attr("y2", 11)
  .attr("stroke", "#87ceeb").attr("stroke-width", 2.2);
lgB.append("line").attr("x1", 5.6).attr("x2", 34.6).attr("y1", 31).attr("y2", 31)
  .attr("stroke", "#000").attr("stroke-opacity", 0.5).attr("stroke-width", 1.5);
lgB.append("text").attr("x", 45).attr("y", 11).attr("dy", "0.35em").attr("font-size", 13.9).text("odour concentration");
lgB.append("text").attr("x", 45).attr("y", 31).attr("dy", "0.35em").attr("font-size", 13.9).text("\u0394 odour concentration");

styleAxis(gBR.append("g").attr("transform", "translate(0," + brH + ")")
  .call(d3.axisBottom(tx).tickValues(timeTicks).tickFormat(intFmt).tickSize(5).tickPadding(5)), 16);
styleAxis(gBR.append("g")
  .call(d3.axisLeft(by).tickValues([5, 6, 7, 8, 9, 10]).tickFormat(intFmt).tickSize(5).tickPadding(5)), 16);
styleAxis(gBR.append("g").attr("transform", "translate(" + rW + ",0)")
  .call(d3.axisRight(byR).tickValues(deltaTicks).tickSize(5).tickPadding(5)
    .tickFormat(d => d3.format(".3f")(d / 1000))), 16);
frame(gBR, rW, brH);
addText(934.3, 766, "time", 16.6);
</script>
</body>
</html>
